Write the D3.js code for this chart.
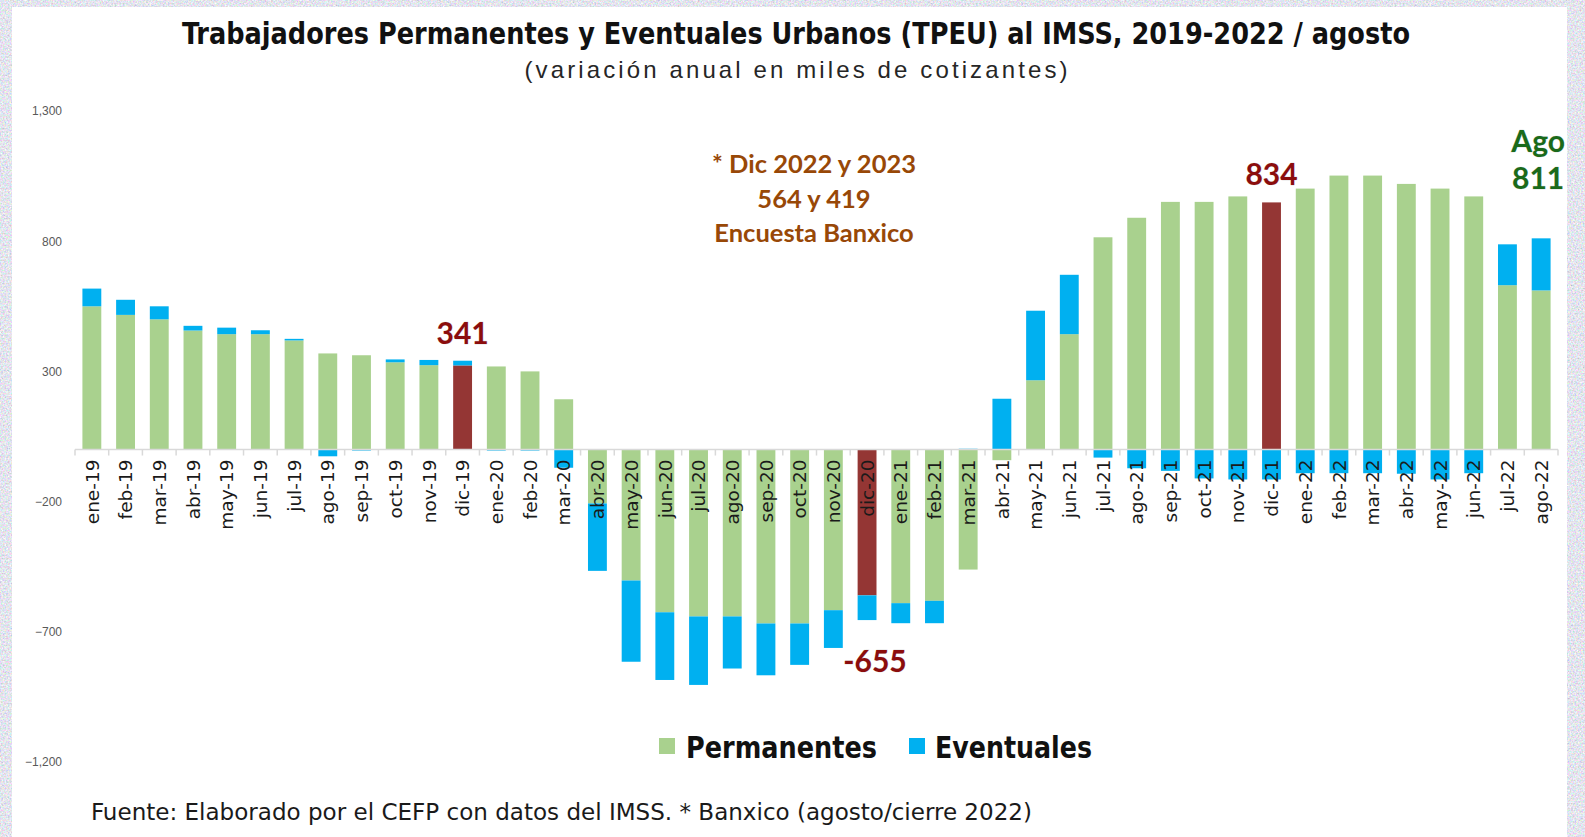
<!DOCTYPE html>
<html>
<head>
<meta charset="utf-8">
<script src="https://cdn.jsdelivr.net/npm/d3@7"></script>
<style>
  html, body { margin: 0; padding: 0; background: #fff; }
  svg { display: block; }
</style>
</head>
<body>
<div id="chart"></div>
<script>
// ---- data (miles de cotizantes, variación anual) ----
const months = [
  "ene-19","feb-19","mar-19","abr-19","may-19","jun-19","jul-19","ago-19","sep-19","oct-19","nov-19","dic-19",
  "ene-20","feb-20","mar-20","abr-20","may-20","jun-20","jul-20","ago-20","sep-20","oct-20","nov-20","dic-20",
  "ene-21","feb-21","mar-21","abr-21","may-21","jun-21","jul-21","ago-21","sep-21","oct-21","nov-21","dic-21",
  "ene-22","feb-22","mar-22","abr-22","may-22","jun-22","jul-22","ago-22"
];
const permanentes = [
  550, 517, 500, 457, 443, 443, 419, 369, 362, 335, 324, 323,
  319, 300, 193, -207, -503, -625, -641, -641, -668, -668, -617, -560,
  -590, -581, -461, -41, 266, 443, 815, 890, 951, 951, 972, 949,
  1002, 1052, 1052, 1020, 1002, 972, 631, 611
];
const eventuales = [
  68, 58, 50, 18, 25, 15, 6, -26, -4, 11, 20, 18,
  -4, -4, -70, -259, -312, -260, -263, -200, -199, -159, -145, -95,
  -77, -86, 3, 195, 267, 228, -31, -72, -82, -111, -115, -115,
  -91, -91, -91, -93, -115, -91, 157, 200
];
const redMonths = ["dic-19", "dic-20", "dic-21"];
const yTicks = [-1200, -700, -200, 300, 800, 1300];
const keys = ["Permanentes", "Eventuales"];
const colors = { Permanentes: "#A9D18E", Eventuales: "#00B0F0", red: "#943634" };

const W = 1585, H = 837;
const svg = d3.select("#chart").append("svg")
    .attr("width", W)
    .attr("height", H);

// textured frame
const defs = svg.append("defs");
const f = defs.append("filter").attr("id", "grain")
    .attr("x", 0).attr("y", 0).attr("width", "100%").attr("height", "100%");
f.append("feTurbulence").attr("type", "fractalNoise")
    .attr("baseFrequency", 0.6).attr("numOctaves", 3).attr("seed", 4);
f.append("feColorMatrix").attr("type", "matrix")
    .attr("values", "0.9 0 0 0 0.32  0 0.8 0 0 0.38  0 0 0.8 0 0.45  0 0 0 0 1");
svg.append("rect").attr("width", W).attr("height", H).attr("fill", "#cfd6df").attr("filter", "url(#grain)");
svg.append("rect").attr("x", 12).attr("y", 7).attr("width", 1555).attr("height", H - 7).attr("fill", "#fff");

// scales
const x = d3.scaleBand().domain(months).range([75, 1558]).paddingInner(0.44).paddingOuter(0.22);
const y = d3.scaleLinear().domain([-1200, 1300]).range([762, 111]);

const rows = months.map((m, i) => ({ month: m, Permanentes: permanentes[i], Eventuales: eventuales[i] }));
const series = d3.stack().keys(keys).offset(d3.stackOffsetDiverging)(rows);

// bars
svg.append("g").selectAll("g")
  .data(series)
  .join("g")
    .attr("fill", s => colors[s.key])
  .selectAll("rect")
  .data(s => s.map(d => Object.assign(d, { key: s.key })))
  .join("rect")
    .attr("x", d => x(d.data.month))
    .attr("width", x.bandwidth())
    .attr("y", d => y(Math.max(d[0], d[1])))
    .attr("height", d => Math.abs(y(d[0]) - y(d[1])))
    .attr("fill", d => (d.key === "Permanentes" && redMonths.includes(d.data.month)) ? colors.red : null);

// x axis line + boundary ticks
const y0 = y(0);
const xr = x.range();
const step = x.step();
const ax = svg.append("g");
ax.append("line").attr("x1", xr[0]).attr("x2", xr[1]).attr("y1", y0).attr("y2", y0)
    .attr("stroke", "#d9d9d9").attr("stroke-width", 1.5);
ax.selectAll(".tk")
  .data(d3.range(months.length + 1))
  .join("line")
    .attr("class", "tk")
    .attr("x1", i => xr[0] + i * step).attr("x2", i => xr[0] + i * step)
    .attr("y1", y0).attr("y2", y0 + 6)
    .attr("stroke", "#d9d9d9").attr("stroke-width", 1.5);

// x labels (rotated)
const xAxis = svg.append("g")
    .attr("transform", `translate(0,${y0})`)
    .call(d3.axisBottom(x).tickSize(0));
xAxis.select(".domain").remove();
xAxis.selectAll("text")
    .attr("transform", "rotate(-90)")
    .attr("x", -10).attr("y", 0).attr("dy", "0.36em")
    .attr("text-anchor", "end")
    .attr("font-family", "'DejaVu Sans', sans-serif")
    .attr("font-size", 18.5)
    .attr("fill", "#1a1a1a");

// y axis
const yAxis = svg.append("g")
    .attr("transform", "translate(64,0)")
    .call(d3.axisLeft(y).tickValues(yTicks).tickSize(0).tickPadding(2).tickFormat(d3.format(",")));
yAxis.select(".domain").remove();
yAxis.selectAll("text")
    .attr("font-family", "'Liberation Sans', sans-serif")
    .attr("font-size", 12)
    .attr("fill", "#595959");

// titles
svg.append("text")
    .attr("x", 796).attr("y", 44).attr("text-anchor", "middle")
    .attr("font-family", "'Liberation Sans Narrow', 'DejaVu Sans Condensed', sans-serif")
    .attr("font-weight", "bold").attr("font-size", 30).attr("fill", "#111")
    .attr("textLength", 1228).attr("lengthAdjust", "spacingAndGlyphs")
    .text("Trabajadores Permanentes y Eventuales Urbanos (TPEU) al IMSS, 2019-2022 / agosto");
svg.append("text")
    .attr("x", 796).attr("y", 78).attr("text-anchor", "middle")
    .attr("font-family", "'Liberation Sans', sans-serif")
    .attr("font-size", 24).attr("fill", "#262626")
    .attr("textLength", 543).attr("lengthAdjust", "spacing")
    .text("(variación anual en miles de cotizantes)");

// annotation
const note = ["* Dic 2022 y 2023", "564 y 419", "Encuesta Banxico"];
svg.append("g").selectAll("text")
  .data(note)
  .join("text")
    .attr("x", 814).attr("y", (d, i) => 173 + i * 34.5)
    .attr("text-anchor", "middle")
    .attr("font-family", "Lato, sans-serif").attr("font-weight", "bold")
    .attr("font-size", 25.5).attr("fill", "#984807")
    .text(d => d);

// value callouts
const cx = m => x(m) + x.bandwidth() / 2;
const lbl = (px, py, t, c) => svg.append("text")
    .attr("x", px).attr("y", py).attr("text-anchor", "middle")
    .attr("font-family", "Lato, sans-serif").attr("font-weight", "bold")
    .attr("font-size", 30).attr("fill", c)
    .style("paint-order", "stroke").attr("stroke", "rgba(0,0,0,0.12)").attr("stroke-width", 1)
    .text(t);
lbl(cx("dic-19"), y(341) - 17, "341", "#8B0D0D");
lbl(cx("dic-21"), y(permanentes[35]) - 17, "834", "#8B0D0D");
lbl(cx("dic-20") + 8, y(-655) + 52, "-655", "#8B0D0D");
lbl(cx("ago-22") - 3, y(811) - 86, "Ago", "#1A6A1A");
lbl(cx("ago-22") - 3, y(811) - 49, "811", "#1A6A1A");

// legend
const legend = [
  { key: "Permanentes", sx: 659, tx: 686, len: 191 },
  { key: "Eventuales", sx: 909, tx: 935, len: 157 }
];
const lg = svg.append("g").selectAll("g").data(legend).join("g");
lg.append("rect").attr("x", d => d.sx).attr("y", 738).attr("width", 16).attr("height", 16)
    .attr("fill", d => colors[d.key]);
lg.append("text").attr("x", d => d.tx).attr("y", 758)
    .attr("font-family", "'Liberation Sans Narrow', 'DejaVu Sans Condensed', sans-serif")
    .attr("font-weight", "bold").attr("font-size", 30).attr("fill", "#111")
    .attr("textLength", d => d.len).attr("lengthAdjust", "spacingAndGlyphs")
    .text(d => d.key);

// source
svg.append("text")
    .attr("x", 91).attr("y", 820)
    .attr("font-family", "'Liberation Sans Narrow', 'DejaVu Sans Condensed', sans-serif")
    .attr("font-size", 23).attr("fill", "#1a1a1a")
    .attr("textLength", 941).attr("lengthAdjust", "spacingAndGlyphs")
    .text("Fuente: Elaborado por el CEFP con datos del IMSS. * Banxico (agosto/cierre 2022)");
</script>
</body>
</html>
